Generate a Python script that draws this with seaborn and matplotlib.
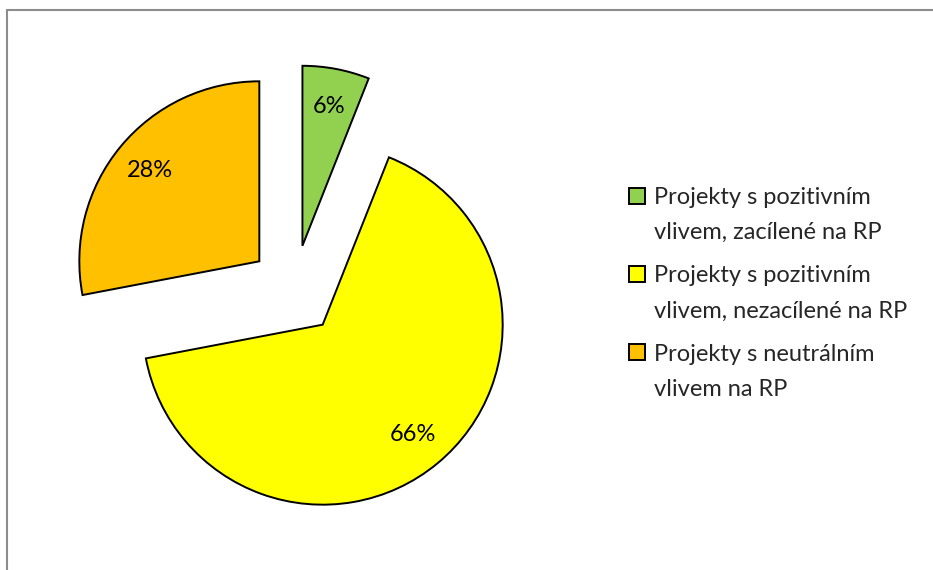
import matplotlib
matplotlib.use("Agg")
import matplotlib.pyplot as plt
import seaborn as sns
from matplotlib.patches import Rectangle
from matplotlib.lines import Line2D
from matplotlib.legend_handler import HandlerPatch

# ------- DATA ---------
labels = [
    "Projekty s pozitivním\nvlivem, zacílené na RP",
    "Projekty s pozitivním\nvlivem, nezacílené na RP",
    "Projekty s neutrálním\nvlivem na RP",
]
shares = [6, 66, 28]
colors = ["#92D050", "#FFFF00", "#FFC000"]

# ------- STYLE ---------
sns.set_theme(style="white")
plt.rcParams["font.family"] = ["Lato", "DejaVu Sans"]
FS = 17

W, H, DPI = 933, 570, 100
CX, CY, R = 294, 290, 180  # pie centre and radius in pixels

fig = plt.figure(figsize=(W / DPI, H / DPI), dpi=DPI)
ax = fig.add_axes([0, 0, 1, 1])

wedges, texts, autotexts = ax.pie(
    shares,
    colors=colors,
    explode=[0.25] * len(shares),
    startangle=90,
    counterclock=False,
    autopct="%.0f%%",
    pctdistance=0.79,
    wedgeprops=dict(edgecolor="black", linewidth=1.4),
    textprops=dict(fontsize=FS, color="black"),
)
ax.set_xlim(-CX / R, (W - CX) / R)
ax.set_ylim(-(H - CY) / R, CY / R)
ax.axis("off")


# legend squares sit next to the first line of each label
def square_patch(legend, orig_handle, xdescent, ydescent, width, height, fontsize):
    s = 11.5
    return Rectangle((-xdescent, -ydescent + height / 2 - s / 2 + 14.0), s, s)


leg = ax.legend(
    wedges, labels,
    loc="upper left",
    bbox_to_anchor=(629 / W, 1 - 187 / H),
    bbox_transform=fig.transFigure,
    frameon=False,
    fontsize=FS,
    borderpad=0, borderaxespad=0,
    handlelength=0.68, handleheight=0.68, handletextpad=0.38,
    labelspacing=0.94,
    handler_map={matplotlib.patches.Wedge: HandlerPatch(patch_func=square_patch)},
)
for t in leg.get_texts():
    t.set_linespacing(1.83)

# grey chart border (cut off at right and bottom)
bx, by = 6.5 / W, 1 - 9.5 / H
fig.add_artist(Line2D([bx, bx], [0, by], color="#8c8c8c", lw=1.5))
fig.add_artist(Line2D([bx, 1], [by, by], color="#8c8c8c", lw=1.5))

fig.savefig("out.png", dpi=DPI)
